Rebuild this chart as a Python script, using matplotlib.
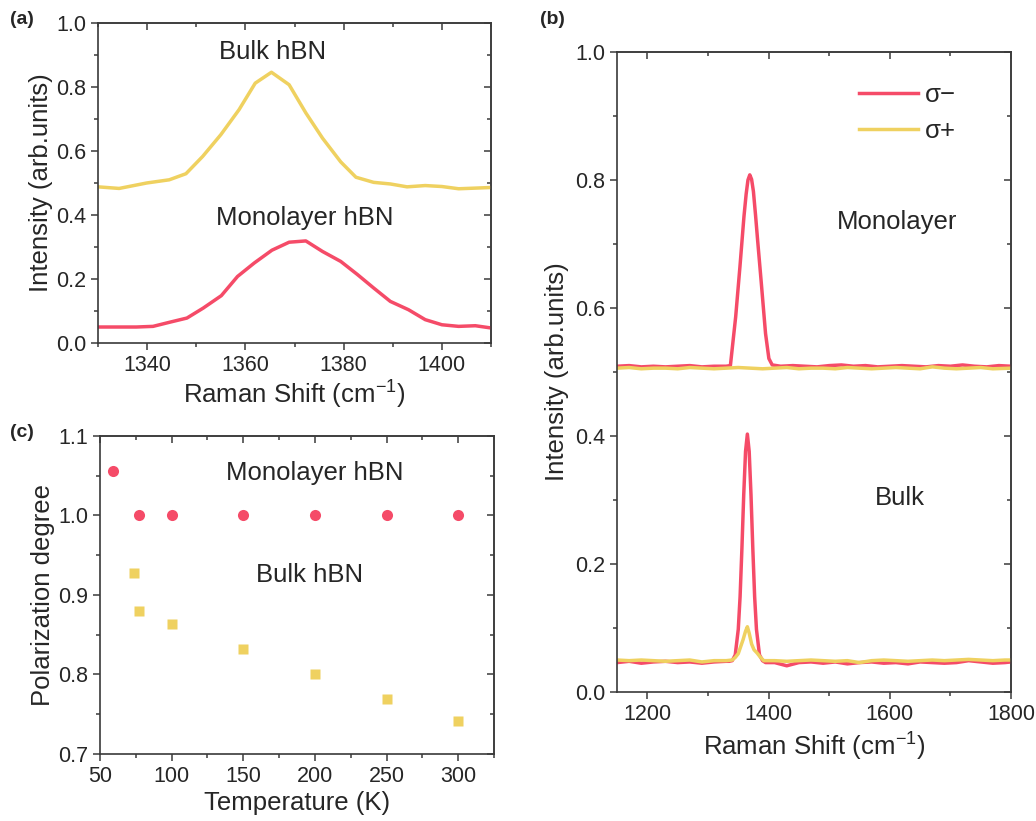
# Raman spectra of hBN and polarization degree vs temperature
import matplotlib
matplotlib.use("Agg")
import matplotlib.pyplot as plt
from matplotlib.ticker import MultipleLocator
from matplotlib.lines import Line2D

plt.rcParams['font.family'] = ['Liberation Sans', 'DejaVu Sans']
plt.rcParams['mathtext.fontset'] = 'custom'
plt.rcParams['mathtext.rm'] = 'Liberation Sans'

red = '#F54B68'
yellow = '#EFD160'
dark = '#262626'

# (a) zoomed Raman peak
a_bulk_x = [1330, 1334.3, 1339.9, 1344.5, 1347.9, 1351.3, 1355, 1358.7, 1362, 1365.3, 1368.9, 1372.3,
            1375.7, 1379.4, 1382.5, 1386.1, 1389.5, 1392.9, 1396.6, 1400, 1403.4, 1406.8, 1410]
a_bulk_y = [0.488, 0.483, 0.500, 0.510, 0.529, 0.583, 0.651, 0.729, 0.812, 0.846, 0.807, 0.719,
            0.640, 0.566, 0.518, 0.502, 0.497, 0.488, 0.492, 0.489, 0.482, 0.484, 0.486]
a_mono_x = [1330, 1334.4, 1337.8, 1341.2, 1344.6, 1348.1, 1351.4, 1355.1, 1358.4, 1361.8, 1365.4, 1368.9,
            1372.3, 1375.7, 1379.4, 1382.8, 1386.1, 1389.5, 1393.2, 1396.6, 1400, 1403.4, 1406.8, 1410]
a_mono_y = [0.050, 0.050, 0.050, 0.052, 0.065, 0.078, 0.109, 0.148, 0.208, 0.250, 0.290, 0.315,
            0.319, 0.286, 0.255, 0.214, 0.172, 0.130, 0.104, 0.073, 0.057, 0.052, 0.054, 0.047]

# (b) full spectra, sigma- / sigma+
mono_minus_x = [1150, 1170, 1190, 1210, 1230, 1250, 1270, 1290, 1310, 1330,
                1337, 1341, 1345.7, 1352.8, 1359.4, 1363, 1366, 1369, 1372, 1375, 1378.5, 1382,
                1388, 1395, 1400.5, 1406,
                1420, 1440, 1460, 1480, 1500, 1520, 1540, 1560, 1580, 1600,
                1620, 1640, 1660, 1680, 1700, 1720, 1740, 1760, 1780, 1800]
mono_minus_y = [0.509, 0.510, 0.508, 0.509, 0.508, 0.509, 0.510, 0.508, 0.509, 0.509,
                0.510, 0.545, 0.586, 0.665, 0.743, 0.778, 0.800, 0.808, 0.801, 0.782, 0.745, 0.705,
                0.639, 0.560, 0.521, 0.511,
                0.509, 0.510, 0.509, 0.508, 0.510, 0.511, 0.509, 0.510, 0.508, 0.509,
                0.510, 0.509, 0.508, 0.510, 0.509, 0.511, 0.509, 0.508, 0.510, 0.509]
mono_plus_x = [1150, 1170, 1190, 1210, 1230, 1250, 1270, 1290, 1310, 1330, 1350, 1370, 1390,
               1410, 1430, 1450, 1470, 1490, 1510, 1530, 1550, 1570, 1590, 1610,
               1630, 1650, 1670, 1690, 1710, 1730, 1750, 1770, 1800]
mono_plus_y = [0.506, 0.507, 0.505, 0.506, 0.506, 0.505, 0.507, 0.506, 0.505, 0.506, 0.507, 0.506, 0.505,
               0.506, 0.507, 0.505, 0.506, 0.506, 0.505, 0.507, 0.506, 0.505, 0.506, 0.507,
               0.506, 0.505, 0.508, 0.506, 0.505, 0.506, 0.507, 0.505, 0.506]
bulk_minus_x = [1150, 1170, 1190, 1210, 1230, 1250, 1270, 1290, 1310, 1330,
                1335, 1340, 1345, 1350, 1353, 1356, 1359, 1362, 1365, 1368, 1371, 1374, 1377, 1380,
                1385, 1390, 1395,
                1410, 1430, 1450, 1470, 1490, 1510, 1530, 1550, 1570, 1590, 1610,
                1630, 1650, 1670, 1690, 1710, 1730, 1750, 1770, 1790, 1800]
bulk_minus_y = [0.046, 0.048, 0.045, 0.047, 0.048, 0.046, 0.047, 0.045, 0.047, 0.048,
                0.048, 0.049, 0.058, 0.098, 0.149, 0.224, 0.308, 0.376, 0.403, 0.376, 0.308, 0.224, 0.149, 0.098,
                0.058, 0.049, 0.046,
                0.046, 0.041, 0.046, 0.047, 0.045, 0.047, 0.044, 0.046, 0.047, 0.045, 0.046,
                0.044, 0.047, 0.046, 0.045, 0.046, 0.049, 0.047, 0.045, 0.046, 0.047]
bulk_plus_x = [1150, 1170, 1190, 1210, 1230, 1250, 1270, 1290, 1310, 1330,
               1340, 1345, 1350, 1354, 1358, 1362, 1365, 1368, 1372, 1376, 1381, 1386, 1392,
               1410, 1430, 1450, 1470, 1490, 1510, 1530, 1550, 1570, 1590, 1610,
               1630, 1650, 1670, 1690, 1710, 1730, 1750, 1770, 1790, 1800]
bulk_plus_y = [0.050, 0.049, 0.050, 0.049, 0.048, 0.049, 0.050, 0.047, 0.049, 0.049,
               0.050, 0.054, 0.060, 0.071, 0.082, 0.095, 0.102, 0.092, 0.075, 0.066, 0.061, 0.055, 0.049,
               0.049, 0.048, 0.049, 0.050, 0.049, 0.048, 0.049, 0.046, 0.049, 0.050, 0.049,
               0.048, 0.049, 0.050, 0.049, 0.050, 0.051, 0.050, 0.049, 0.050, 0.050]

# (c) polarization degree
temps = [77, 100, 150, 200, 250, 300]
pol_mono = [1.0, 1.0, 1.0, 1.0, 1.0, 1.0]
pol_bulk = [0.880, 0.864, 0.832, 0.801, 0.769, 0.741]

fig = plt.figure(figsize=(10.36, 8.21), dpi=100)
ax_a = fig.add_axes([0.0946, 0.5822, 0.3794, 0.3898])
ax_b = fig.add_axes([0.5956, 0.1571, 0.3803, 0.7796])
ax_c = fig.add_axes([0.0965, 0.0816, 0.3803, 0.3874])

tick_fs = 15.5
label_fs = 18.5
xlabel_text = r'Raman Shift (cm$^{\mathregular{-1}}$)'


def style(ax, xmaj, xmin, ymaj, ymin):
    # Origin-like frame: ticks out on left/bottom, mirrored inward on top/right
    for s in ax.spines.values():
        s.set_color('#3a3a3a')
        s.set_linewidth(1.2)
    ax.xaxis.set_major_locator(MultipleLocator(xmaj))
    ax.xaxis.set_minor_locator(MultipleLocator(xmin))
    ax.yaxis.set_major_locator(MultipleLocator(ymaj))
    ax.yaxis.set_minor_locator(MultipleLocator(ymin))
    ax.tick_params(which='both', direction='out', colors='#3a3a3a', labelcolor=dark,
                   labelsize=tick_fs, width=1.1)
    ax.tick_params(which='major', length=5)
    ax.tick_params(which='minor', length=3)
    top = ax.secondary_xaxis('top')
    right = ax.secondary_yaxis('right')
    top.xaxis.set_major_locator(MultipleLocator(xmaj))
    top.xaxis.set_minor_locator(MultipleLocator(xmin))
    right.yaxis.set_major_locator(MultipleLocator(ymaj))
    right.yaxis.set_minor_locator(MultipleLocator(ymin))
    for sec in (top, right):
        sec.tick_params(which='both', direction='in', colors='#3a3a3a', width=1.1,
                        labeltop=False, labelright=False)
        sec.tick_params(which='major', length=5)
        sec.tick_params(which='minor', length=3)
        for s in sec.spines.values():
            s.set_color('#555555')
            s.set_linewidth(1.2)


# panel (a)
ax_a.plot(a_bulk_x, a_bulk_y, color=yellow, lw=2.5)
ax_a.plot(a_mono_x, a_mono_y, color=red, lw=2.5)
ax_a.set_xlim(1330, 1410)
ax_a.set_ylim(0, 1.0)
style(ax_a, 20, 10, 0.2, 0.1)
ax_a.set_xlabel(xlabel_text, fontsize=label_fs, color=dark, labelpad=1)
ax_a.set_ylabel('Intensity (arb.units)', fontsize=label_fs, color=dark, labelpad=2)
ax_a.text(1365.6, 0.91, 'Bulk hBN', fontsize=label_fs, color=dark, ha='center', va='center')
ax_a.text(1372, 0.39, 'Monolayer hBN', fontsize=label_fs, color=dark, ha='center', va='center')

# panel (b)
ax_b.plot(mono_minus_x, mono_minus_y, color=red, lw=2.5, label='σ−')
ax_b.plot(mono_plus_x, mono_plus_y, color=yellow, lw=2.5, label='σ+')
ax_b.plot(bulk_minus_x, bulk_minus_y, color=red, lw=2.5)
ax_b.plot(bulk_plus_x, bulk_plus_y, color=yellow, lw=2.5)
ax_b.set_xlim(1150, 1800)
ax_b.set_ylim(0, 1.0)
style(ax_b, 200, 100, 0.2, 0.1)
ax_b.set_xlabel(xlabel_text, fontsize=label_fs, color=dark, labelpad=3)
ax_b.set_ylabel('Intensity (arb.units)', fontsize=label_fs, color=dark, labelpad=4)
ax_b.text(1612, 0.734, 'Monolayer', fontsize=label_fs, color=dark, ha='center', va='center')
ax_b.text(1617, 0.303, 'Bulk', fontsize=label_fs, color=dark, ha='center', va='center')
ax_b.legend(loc='upper left', bbox_to_anchor=(0.613, 0.951), frameon=False, fontsize=label_fs,
            borderpad=0, borderaxespad=0, handlelength=2.3, handletextpad=0.3, labelspacing=0.45,
            labelcolor=dark)

# panel (c)
ax_c.plot(temps, pol_mono, 'o', color=red, ms=8, mec='none')
ax_c.plot(temps, pol_bulk, 's', color=yellow, ms=7, mec='none')
ax_c.set_xlim(50, 325)
ax_c.set_ylim(0.7, 1.1)
style(ax_c, 50, 25, 0.1, 0.05)
ax_c.set_xlabel('Temperature (K)', fontsize=label_fs, color=dark, labelpad=3)
ax_c.set_ylabel('Polarization degree', fontsize=label_fs, color=dark, labelpad=2)
h_mono = Line2D([], [], ls='none', marker='o', color=red, ms=8, mec='none')
h_bulk = Line2D([], [], ls='none', marker='s', color=yellow, ms=7, mec='none')
leg1 = ax_c.legend([h_mono], ['Monolayer hBN'], loc='center left', bbox_to_anchor=(0.0, 0.884),
                   frameon=False, fontsize=label_fs, borderpad=0, borderaxespad=0,
                   handlelength=1.0, handletextpad=3.9, labelcolor=dark)
ax_c.add_artist(leg1)
ax_c.legend([h_bulk], ['Bulk hBN'], loc='center left', bbox_to_anchor=(0.053, 0.563),
            frameon=False, fontsize=label_fs, borderpad=0, borderaxespad=0,
            handlelength=1.0, handletextpad=4.25, labelcolor=dark)

# panel letters
fig.text(0.010, 0.987, '(a)', fontsize=14, fontweight='bold', color=dark, va='top')
fig.text(0.521, 0.987, '(b)', fontsize=14, fontweight='bold', color=dark, va='top')
fig.text(0.010, 0.483, '(c)', fontsize=14, fontweight='bold', color=dark, va='top')

fig.savefig('out.png', dpi=100)
